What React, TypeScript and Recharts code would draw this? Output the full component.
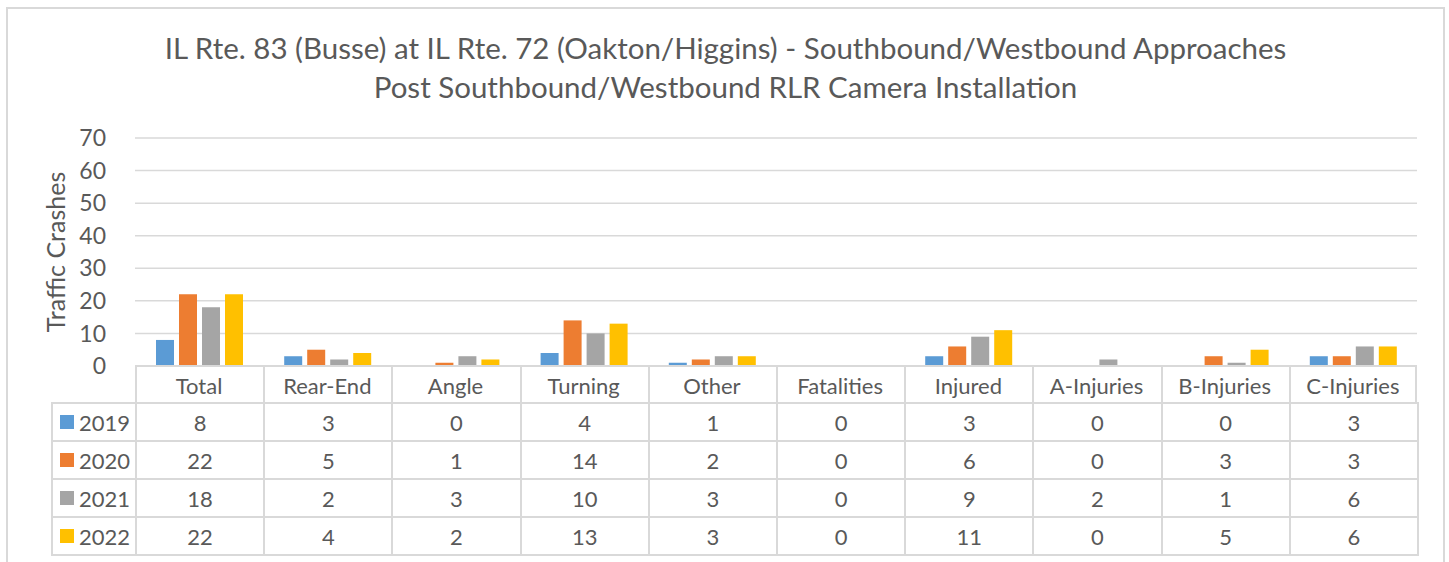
import { BarChart, Bar, XAxis, YAxis, CartesianGrid } from "recharts";

const categories = ["Total", "Rear-End", "Angle", "Turning", "Other", "Fatalities", "Injured", "A-Injuries", "B-Injuries", "C-Injuries"];
const years = ["2019", "2020", "2021", "2022"];
const v2019 = [8, 3, 0, 4, 1, 0, 3, 0, 0, 3];
const v2020 = [22, 5, 1, 14, 2, 0, 6, 0, 3, 3];
const v2021 = [18, 2, 3, 10, 3, 0, 9, 2, 1, 6];
const v2022 = [22, 4, 2, 13, 3, 0, 11, 0, 5, 6];
const yTicks = [0, 10, 20, 30, 40, 50, 60, 70];
const colors = ["#5B9BD5", "#ED7D31", "#A5A5A5", "#FFC000"];

const series = [v2019, v2020, v2021, v2022];
const data = categories.map((name, i) => ({
  name,
  y2019: v2019[i],
  y2020: v2020[i],
  y2021: v2021[i],
  y2022: v2022[i],
}));

const FONT = "Lato, 'Open Sans', sans-serif";
const TEXT = "#595959";
const LINE = "#d9d9d9";

const W = 1449;
const H = 562;
const PLOT_L = 135;
const PLOT_R = 1417;
const PLOT_T = 138;
const PLOT_B = 366;
const HEAD_H = 37;
const ROW_TOPS = [403, 441, 479, 517];
const ROW_H = 38;
const LEG_L = 51;
const COL_W = (PLOT_R - PLOT_L) / categories.length;
const Y_AXIS_W = 80;
const FS = 22;

function CatTick(props: any) {
  const { x, payload } = props;
  return (
    <text x={x} y={PLOT_B + HEAD_H / 2 + 1} textAnchor="middle" dominantBaseline="central"
      fill={TEXT} fontSize={FS} fontFamily={FONT}>
      {payload.value}
    </text>
  );
}

function DataTable() {
  const cells: any[] = [];
  categories.forEach((_, c) => {
    cells.push(
      <div key={"h" + c} style={{
        position: "absolute", left: PLOT_L + c * COL_W, top: PLOT_B - 1,
        width: COL_W, height: HEAD_H + 1, boxSizing: "border-box",
        borderLeft: `2px solid ${LINE}`, borderRight: c === categories.length - 1 ? `2px solid ${LINE}` : "none",
      }} />
    );
  });
  years.forEach((yr, r) => {
    const top = ROW_TOPS[r] - 1;
    cells.push(
      <div key={"l" + r} style={{
        position: "absolute", left: LEG_L, top, width: PLOT_L - LEG_L, height: ROW_H + 2,
        boxSizing: "border-box", border: `2px solid ${LINE}`, borderRight: "none",
        display: "flex", alignItems: "center", paddingLeft: 7, gap: 5,
        color: TEXT, fontSize: FS, fontFamily: FONT,
      }}>
        <span style={{ width: 14, height: 14, background: colors[r], display: "inline-block" }} />
        <span>{yr}</span>
      </div>
    );
    categories.forEach((_, c) => {
      cells.push(
        <div key={r + "-" + c} style={{
          position: "absolute", left: PLOT_L + c * COL_W, top, width: COL_W + 2, height: ROW_H + 2,
          boxSizing: "border-box", border: `2px solid ${LINE}`,
          display: "flex", alignItems: "center", justifyContent: "center",
          color: TEXT, fontSize: FS, fontFamily: FONT,
        }}>
          {series[r][c]}
        </div>
      );
    });
  });
  return <>{cells}</>;
}

export default function App() {
  return (
    <div style={{ position: "absolute", left: 0, top: 0, width: W, height: H, overflow: "hidden", background: "#fff" }}>
      <div style={{
        position: "absolute", left: 6, top: 7, width: 1439, height: 620,
        border: `2px solid ${LINE}`, boxSizing: "border-box",
      }} />
      <div style={{
        position: "absolute", left: 0, top: 28, width: 1451, textAlign: "center",
        color: TEXT, fontFamily: FONT, fontSize: 29.5, lineHeight: "39px",
      }}>
        <div>IL Rte. 83 (Busse) at IL Rte. 72 (Oakton/Higgins) - Southbound/Westbound Approaches</div>
        <div>Post Southbound/Westbound RLR Camera Installation</div>
      </div>
      <div style={{ position: "absolute", left: 0, top: 0 }}>
        <BarChart width={W} height={H} data={data}
          margin={{ top: PLOT_T, right: W - PLOT_R, left: PLOT_L - Y_AXIS_W, bottom: H - PLOT_B - HEAD_H }}
          barSize={18} barGap={5}>
          <CartesianGrid horizontal vertical={false} stroke={LINE} strokeWidth={1.5} />
          <XAxis dataKey="name" height={HEAD_H} axisLine={{ stroke: LINE, strokeWidth: 2 }} tickLine={false}
            tick={<CatTick />} interval={0} />
          <YAxis width={Y_AXIS_W} domain={[0, 70]} ticks={yTicks} axisLine={false} tickLine={false}
            tickMargin={23} tick={{ fill: TEXT, fontSize: 23, fontFamily: FONT }}
            label={{ value: "Traffic Crashes", angle: -90, position: "insideLeft", dx: -4, dy: 0,
              style: { fill: TEXT, fontSize: 25, fontFamily: FONT, textAnchor: "middle" } }} />
          <Bar dataKey="y2019" fill={colors[0]} isAnimationActive={false} />
          <Bar dataKey="y2020" fill={colors[1]} isAnimationActive={false} />
          <Bar dataKey="y2021" fill={colors[2]} isAnimationActive={false} />
          <Bar dataKey="y2022" fill={colors[3]} isAnimationActive={false} />
        </BarChart>
      </div>
      <DataTable />
    </div>
  );
}
